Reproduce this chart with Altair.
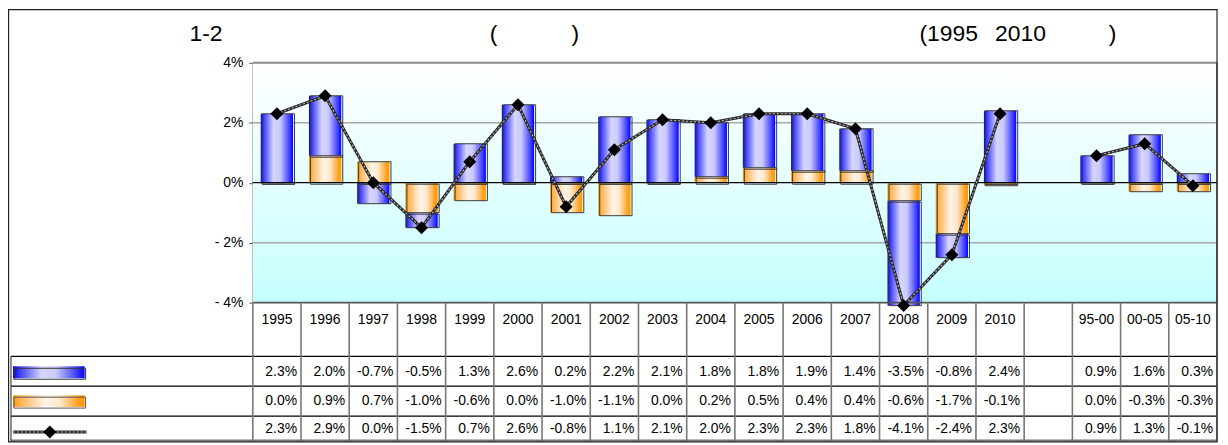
import altair as alt
import pandas as pd

# ---------------- data ----------------
cats = ["1995", "1996", "1997", "1998", "1999", "2000", "2001", "2002", "2003",
        "2004", "2005", "2006", "2007", "2008", "2009", "2010", " ",
        "95-00", "00-05", "05-10"]
blue = [2.3, 2.0, -0.7, -0.5, 1.3, 2.6, 0.2, 2.2, 2.1, 1.8, 1.8, 1.9, 1.4,
        -3.5, -0.8, 2.4, None, 0.9, 1.6, 0.3]
orange = [0.0, 0.9, 0.7, -1.0, -0.6, 0.0, -1.0, -1.1, 0.0, 0.2, 0.5, 0.4, 0.4,
          -0.6, -1.7, -0.1, None, 0.0, -0.3, -0.3]
total = [2.3, 2.9, 0.0, -1.5, 0.7, 2.6, -0.8, 1.1, 2.1, 2.0, 2.3, 2.3, 1.8,
         -4.1, -2.4, 2.3, None, 0.9, 1.3, -0.1]
groups = ["y"] * 16 + [None] + ["p"] * 3
y_ticks = [-4, -2, 0, 2, 4]
title_parts = ["1-2", "(", ")", "(1995", "2010", ")"]

W, H = 969, 241
FONT = "Liberation Sans"

# ---------------- tables ----------------
bars = []
for i, c in enumerate(cats):
    if blue[i] is None:
        continue
    pos, neg = 0.0, 0.0
    for s, v in (("orange", orange[i]), ("blue", blue[i])):
        if v >= 0:
            y0, y1 = pos, pos + v
            pos = y1
        else:
            y0, y1 = neg, neg + v
            neg = y1
        bars.append({"cat": c, "series": s, "y0": y0, "y1": y1})
bars = pd.DataFrame(bars)

line_df = pd.DataFrame([{"cat": c, "total": total[i], "grp": groups[i], "idx": i}
                        for i, c in enumerate(cats) if total[i] is not None])


def fmt(v):
    return "" if v is None else f"{v:.1f}%"


tab = pd.DataFrame({"cat": cats,
                    "b": [fmt(v) for v in blue],
                    "o": [fmt(v) for v in orange],
                    "t": [fmt(v) for v in total]})
one = pd.DataFrame({"k": [0]})
grid_df = pd.DataFrame({"g": [2, -2]})
zero_df = pd.DataFrame({"z": [0]})

xs = alt.Scale(type="band", domain=cats, paddingInner=0, paddingOuter=0)
ys = alt.Scale(domain=[-4, 4], nice=False, zero=False)


def X(**kw):
    return alt.X("cat:N", scale=xs, sort=cats, axis=None, **kw)


blue_grad = alt.LinearGradient(
    gradient="linear", x1=0, x2=1, y1=0, y2=0,
    stops=[alt.GradientStop(offset=0, color="#0000ff"),
           alt.GradientStop(offset=0.1, color="#4040ff"),
           alt.GradientStop(offset=0.4, color="#d6d6ff"),
           alt.GradientStop(offset=0.6, color="#cacaff"),
           alt.GradientStop(offset=0.9, color="#3a3aff"),
           alt.GradientStop(offset=1, color="#0000ff")])
orange_grad = alt.LinearGradient(
    gradient="linear", x1=0, x2=1, y1=0, y2=0,
    stops=[alt.GradientStop(offset=0, color="#ff9900"),
           alt.GradientStop(offset=0.12, color="#ffb860"),
           alt.GradientStop(offset=0.45, color="#fff4e6"),
           alt.GradientStop(offset=0.65, color="#ffe8cc"),
           alt.GradientStop(offset=0.92, color="#ffa01a"),
           alt.GradientStop(offset=1, color="#ff9900")])
bg_grad = alt.LinearGradient(
    gradient="linear", x1=0, x2=0, y1=0, y2=1,
    stops=[alt.GradientStop(offset=0, color="#ffffff"),
           alt.GradientStop(offset=0.5, color="#e4ffff"),
           alt.GradientStop(offset=1, color="#c6ffff")])

layers = []

# background
layers.append(alt.Chart(one).mark_rect(fill=bg_grad).encode(
    x=alt.value(0), x2=alt.value(W), y=alt.value(0), y2=alt.value(H)))

# gridlines (+ y axis)
layers.append(alt.Chart(grid_df).mark_rule(color="#a8a8a8", strokeWidth=1.5).encode(
    y=alt.Y("g:Q", scale=ys, axis=alt.Axis(values=y_ticks,
            labelExpr="datum.value < 0 ? '- ' + abs(datum.value) + '%' : datum.value + '%'",
            grid=False, title=None, labelFont=FONT, labelFontSize=14, labelColor="#000",
            domainColor="#555", domainWidth=1.5, tickColor="#555", tickSize=4,
            labelPadding=6)),
    x=alt.value(0), x2=alt.value(W)))
# top border and right border
layers.append(alt.Chart(one).mark_rule(color="#888", strokeWidth=2).encode(
    x=alt.value(0), x2=alt.value(W), y=alt.value(0)))
layers.append(alt.Chart(one).mark_rule(color="#888", strokeWidth=2).encode(
    x=alt.value(W), y=alt.value(0), y2=alt.value(H)))

# bars
for s, g in (("orange", orange_grad), ("blue", blue_grad)):
    layers.append(alt.Chart(bars).transform_filter(alt.datum.series == s)
                  .mark_bar(width={"band": 0.67}, fill=g).encode(
        x=X(), y=alt.Y("y0:Q", scale=ys), y2="y1:Q"))
layers.append(alt.Chart(bars).mark_bar(
    width={"band": 0.67}, fill="white", fillOpacity=0, stroke="#3a3a3a",
    strokeWidth=1, xOffset=1.5, yOffset=1.5).encode(
    x=X(), y=alt.Y("y0:Q", scale=ys), y2="y1:Q"))

# zero line and bottom axis line
layers.append(alt.Chart(zero_df).mark_rule(color="#000", strokeWidth=1.2).encode(
    x=alt.value(0), x2=alt.value(W), y=alt.Y("z:Q", scale=ys)))
layers.append(alt.Chart(one).mark_rule(color="#555", strokeWidth=2).encode(
    x=alt.value(0), x2=alt.value(W), y=alt.value(H)))

# total line
layers.append(alt.Chart(line_df).mark_line(color="#2a2a2a", strokeWidth=3).encode(
    x=X(), y=alt.Y("total:Q", scale=ys), detail="grp:N", order="idx:Q"))
layers.append(alt.Chart(line_df).mark_line(color="#b8b8b8", strokeWidth=1.1,
                                           strokeDash=[2, 2]).encode(
    x=X(), y=alt.Y("total:Q", scale=ys), detail="grp:N", order="idx:Q"))
layers.append(alt.Chart(line_df).mark_point(shape="diamond", filled=True, color="#000",
                                            size=170, opacity=1).encode(
    x=X(), y=alt.Y("total:Q", scale=ys)))

# ---------------- data table ----------------
T0, R1, R2, R3, TB = H, 295, 325, 355, 380.5
LX = -243
for yy in (R1, R2, R3):
    layers.append(alt.Chart(one).mark_rule(color="#000", strokeWidth=1.2).encode(
        x=alt.value(LX), x2=alt.value(W), y=alt.value(yy)))
layers.append(alt.Chart(one).mark_rule(color="#777", strokeWidth=2).encode(
    x=alt.value(LX), x2=alt.value(W), y=alt.value(TB - 1)))
layers.append(alt.Chart(one).mark_rule(color="#444", strokeWidth=1.2).encode(
    x=alt.value(LX), y=alt.value(R1), y2=alt.value(TB)))
layers.append(alt.Chart(tab).mark_rule(color="#777", strokeWidth=1.6).encode(
    x=X(bandPosition=0), y=alt.value(T0), y2=alt.value(TB)))
layers.append(alt.Chart(one).mark_rule(color="#777", strokeWidth=1.6).encode(
    x=alt.value(W), y=alt.value(T0), y2=alt.value(TB)))

layers.append(alt.Chart(tab).mark_text(font=FONT, fontSize=14, color="#000",
                                       align="center", baseline="middle").encode(
    x=X(), y=alt.value(258), text="cat:N"))
for field, yy in (("b", 311), ("o", 340), ("t", 368)):
    layers.append(alt.Chart(tab).mark_text(font=FONT, fontSize=14, color="#000",
                                           align="right", baseline="middle", dx=-4).encode(
        x=X(bandPosition=1), y=alt.value(yy), text=f"{field}:N"))

# legend keys inside the table
layers.append(alt.Chart(one).mark_rect(fill=blue_grad).encode(
    x=alt.value(-241), x2=alt.value(-169), y=alt.value(305), y2=alt.value(317)))
layers.append(alt.Chart(one).mark_rect(fill="white", fillOpacity=0, stroke="#333",
                                       strokeWidth=1).encode(
    x=alt.value(-240), x2=alt.value(-168), y=alt.value(307), y2=alt.value(318)))
layers.append(alt.Chart(one).mark_rect(fill=orange_grad).encode(
    x=alt.value(-241), x2=alt.value(-169), y=alt.value(334), y2=alt.value(346)))
layers.append(alt.Chart(one).mark_rect(fill="white", fillOpacity=0, stroke="#555",
                                       strokeWidth=1).encode(
    x=alt.value(-240), x2=alt.value(-168), y=alt.value(336), y2=alt.value(347)))
layers.append(alt.Chart(one).mark_rule(color="#2a2a2a", strokeWidth=3).encode(
    x=alt.value(-241), x2=alt.value(-167), y=alt.value(371)))
layers.append(alt.Chart(one).mark_rule(color="#b8b8b8", strokeWidth=1.1,
                                       strokeDash=[2, 2]).encode(
    x=alt.value(-241), x2=alt.value(-167), y=alt.value(371)))
layers.append(alt.Chart(one).mark_point(shape="diamond", filled=True, color="#000",
                                        size=170, opacity=1).encode(
    x=alt.value(-204), y=alt.value(371)))

# outer frame
layers.append(alt.Chart(one).mark_rect(fill="white", fillOpacity=0, stroke="#222",
                                       strokeWidth=1.2).encode(
    x=alt.value(-245.4), x2=alt.value(W), y=alt.value(-53.4), y2=alt.value(381)))

# title pieces
tpos = [(-47, "center"), (242, "center"), (324, "center"),
        (670, "left"), (746, "left"), (864, "center")]
for txt, (px, al) in zip(title_parts, tpos):
    layers.append(alt.Chart(one).mark_text(text=txt, font=FONT, fontSize=23,
                                           color="#000", align=al,
                                           baseline="middle").encode(
        x=alt.value(px), y=alt.value(-29)))

chart = alt.layer(*layers).properties(
    width=W, height=H,
    autosize=alt.AutoSizeParams(type="none"),
    padding={"left": 246, "top": 54, "right": 3, "bottom": 141},
    background="white",
).configure_view(strokeWidth=0)

chart.save("out.html", embed_options={"renderer": "svg", "actions": False})
